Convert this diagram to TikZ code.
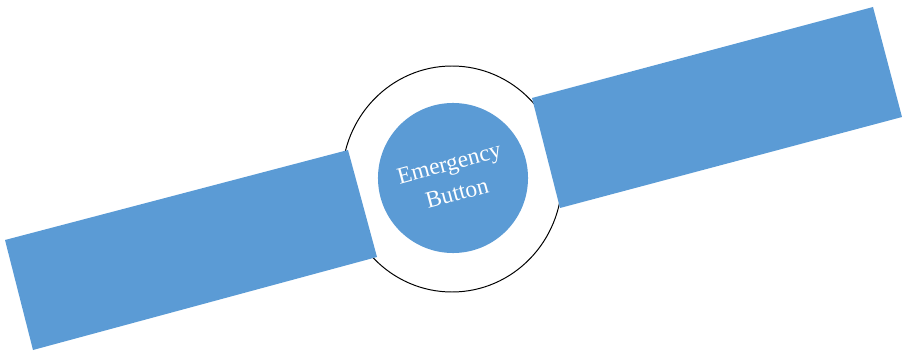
\documentclass[tikz,border=0pt]{standalone}
\usepackage{fontspec}
\setmainfont{Liberation Serif}
\usetikzlibrary{positioning}
\definecolor{strapblue}{RGB}{91,155,213}

\begin{document}
\begin{tikzpicture}[x=0.025cm,y=-0.025cm]

  \useasboundingbox (0,0) rectangle (902,354);

  % watch case
  \draw[black, line width=0.7pt, fill=white] (452,179) ellipse [x radius=110, y radius=113];

  % left strap
  \fill[strapblue] (5,240) -- (348,150) -- (377,257) -- (33,350) -- cycle;

  % right strap
  \fill[strapblue] (532,98) -- (873,7) -- (902,117) -- (560,208) -- cycle;

  % button
  \node[circle, fill=strapblue, minimum size=3.75cm, inner sep=0pt] (button) at (453,178) {};
  \node[text=white, align=center, rotate=15, font=\fontsize{16.7}{22}\selectfont] (label) at (button.center)
    {Emergency\\Button};

\end{tikzpicture}
\end{document}
